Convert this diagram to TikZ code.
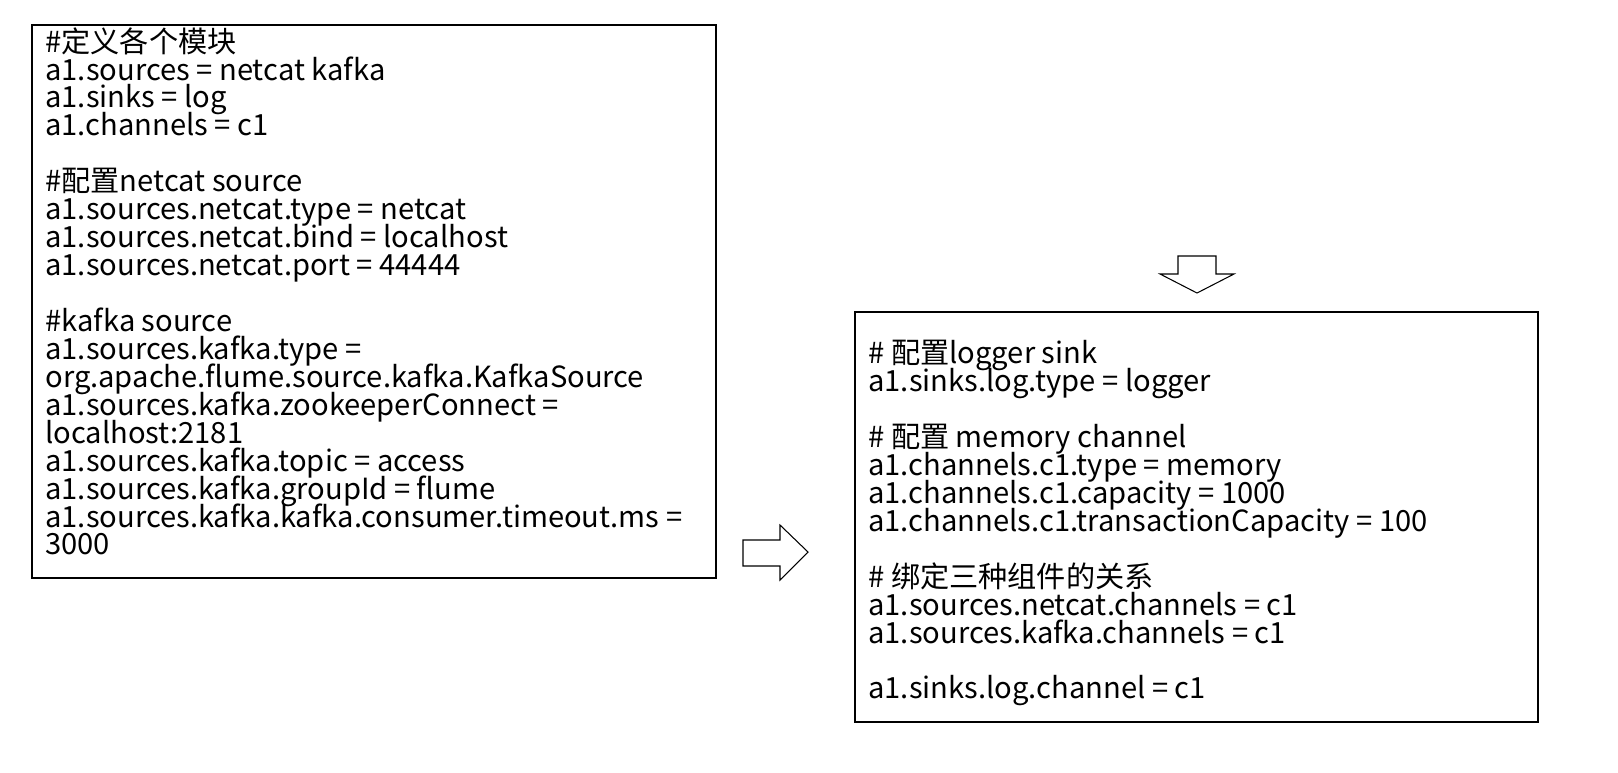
\documentclass[tikz,border=0pt]{standalone}
\usepackage{fontspec}
\setmainfont{Noto Sans CJK SC}
\lineskiplimit=-20pt
\lineskip=0pt
\begin{document}
\begin{tikzpicture}[x=0.02cm,y=-0.02cm,
  conf/.style={anchor=north west,align=left,inner sep=0pt,
    font=\fontsize{16.6pt}{15.9pt}\selectfont},
  frame/.style={draw,line width=0.6pt}]
 \path[use as bounding box] (0,0) rectangle (1618,772);
 % boxes
 \draw[frame] (32,25) rectangle (716,578);
 \draw[frame] (855,312) rectangle (1538,722);
 % left configuration
 \node[conf,name=srcconf] at (45,27) {\#定义各个模块\\
  a1.sources = netcat kafka\\
  a1.sinks = log\\
  a1.channels = c1\\
  ~\\
  \#配置netcat source\\
  a1.sources.netcat.type = netcat\\
  a1.sources.netcat.bind = localhost\\
  a1.sources.netcat.port = 44444\\
  ~\\
  \#kafka source\\
  a1.sources.kafka.type =\\
  org.apache.flume.source.kafka.KafkaSource\\
  a1.sources.kafka.zookeeperConnect =\\
  localhost:2181\\
  a1.sources.kafka.topic = access\\
  a1.sources.kafka.groupId = flume\\
  a1.sources.kafka.kafka.consumer.timeout.ms =\\
  3000};
 % right configuration
 \node[conf,name=sinkconf] at (868,340) {\# 配置logger sink\\
  a1.sinks.log.type = logger\\
  ~\\
  \# 配置 memory channel\\
  a1.channels.c1.type = memory\\
  a1.channels.c1.capacity = 1000\\
  a1.channels.c1.transactionCapacity = 100\\
  ~\\
  \# 绑定三种组件的关系\\
  a1.sources.netcat.channels = c1\\
  a1.sources.kafka.channels = c1\\
  ~\\
  a1.sinks.log.channel = c1};
 % block arrows
 \draw[frame,fill=white] (743,540) -- (780,540) -- (780,525) -- (808,552)
   -- (780,580) -- (780,566) -- (743,566) -- cycle;
 \draw[frame,fill=white] (1178,256) -- (1216,256) -- (1216,274) -- (1234,274)
   -- (1197,293) -- (1160,274) -- (1178,274) -- cycle;
\end{tikzpicture}
\end{document}
